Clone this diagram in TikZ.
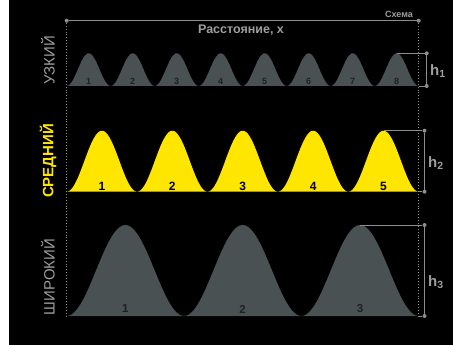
\documentclass[tikz,border=0pt]{standalone}
\usepackage{fontspec}
\setmainfont{Liberation Sans}
\usetikzlibrary{positioning}

\definecolor{bumpgray}{HTML}{4A5153}
\definecolor{textgray}{HTML}{9C9E9F}
\definecolor{guidegray}{HTML}{8C8E8F}
\definecolor{bumpyellow}{HTML}{FFE600}
\definecolor{numdark}{HTML}{1E2122}

% one row of bell-shaped bumps: #1 count, #2 baseline, #3 height, #4 colour
\newcommand{\bellrow}[4]{%
  \pgfmathsetmacro{\bw}{352/#1}%
  \foreach \k in {1,...,#1}{%
    \pgfmathsetmacro{\xa}{66.7+(\k-1)*\bw}%
    \fill[#4] plot[domain=0:1, samples=50, smooth]
      ({\xa+\x*\bw},{#2-#3*(1-cos(360*\x))/2}) -- cycle;
  }%
}

\begin{document}
\begin{tikzpicture}[
    x=1pt, y=-1pt,
    guide/.style={guidegray, line width=0.9pt},
    dotline/.style={guidegray, line width=0.9pt, dotted},
    enddot/.style={circle, fill=guidegray, inner sep=0pt, minimum size=4pt},
    rowlabel/.style={rotate=90, font=\fontsize{15}{15}\selectfont},
    numlabel/.style={font=\bfseries\fontsize{#1}{#1}\selectfont},
    hlabel/.style={textgray, font=\bfseries\fontsize{15}{15}\selectfont}
  ]
  \useasboundingbox (0,0) rectangle (453,345);
  \fill[white] (0,0) rectangle (9,345);
  \fill[black] (9,0) rectangle (453,345);

  % distance axis
  \node[enddot] (axL) at (66.7,20.7) {};
  \node[enddot] (axR) at (418.7,20.7) {};
  \draw[guide] (axL) -- (axR);
  \node[textgray, font=\bfseries\fontsize{9}{9}\selectfont, anchor=south east, inner sep=1pt] (scheme) at (414,18.5) {Схема};
  \node[textgray, font=\bfseries\fontsize{12.5}{12.5}\selectfont] (dist) at (241,30) {Расстояние, x};
  \coordinate (botL) at (66.7,316);
  \coordinate (botR) at (418.7,316);
  \draw[dotline] (axL) -- (botL);
  \draw[dotline] (axR) -- (botR);

  % row labels
  \node[rowlabel, textgray] (narrow) at (48,60) {УЗКИЙ};
  \node[rowlabel, bumpyellow, font=\bfseries\fontsize{15}{15}\selectfont] (medium) at (48,161) {СРЕДНИЙ};
  \node[rowlabel, textgray] (wide) at (48,277) {ШИРОКИЙ};

  % bumps
  \bellrow{8}{86}{32.7}{bumpgray}
  \bellrow{5}{191.7}{61}{bumpyellow}
  \bellrow{3}{316}{91}{bumpgray}

  % numbers
  \foreach \k in {1,...,8}
    \node[numlabel=9, numdark] (n\k) at ({66.7+(\k-0.5)*44},81) {\k};
  \foreach \k in {1,...,5}
    \node[numlabel=12, black] (m\k) at ({66.7+(\k-0.5)*70.4},186) {\k};
  \foreach \k in {1,...,3}
    \node[numlabel=11.5, numdark] (w\k) at ({66.7+(\k-0.5)*117.33},309) {\k};

  % height markers
  \coordinate (n8top) at (396.7,53.3);
  \node[enddot] (h1a) at (426.7,53.3) {};
  \node[enddot] (h1b) at (426.7,86) {};
  \coordinate (h1base) at (418.7,86);
  \draw[guide] (n8top) -- (h1a) -- (h1b) -- (h1base);
  \node[hlabel, anchor=west, inner sep=0pt] (h1) at (430,71) {h\textsubscript{1}};

  \coordinate (m5top) at (383.5,130.7);
  \node[enddot] (h2a) at (424.5,130.7) {};
  \node[enddot] (h2b) at (424.5,191.7) {};
  \coordinate (h2base) at (418.7,191.7);
  \draw[guide] (m5top) -- (h2a) -- (h2b) -- (h2base);
  \node[hlabel, anchor=west, inner sep=0pt] (h2) at (428,163) {h\textsubscript{2}};

  \coordinate (w3top) at (360,225);
  \node[enddot] (h3a) at (424.5,225) {};
  \node[enddot] (h3b) at (424.5,316) {};
  \coordinate (h3base) at (418.7,316);
  \draw[guide] (w3top) -- (h3a) -- (h3b) -- (h3base);
  \node[hlabel, anchor=west, inner sep=0pt] (h3) at (428,282) {h\textsubscript{3}};
\end{tikzpicture}
\end{document}
